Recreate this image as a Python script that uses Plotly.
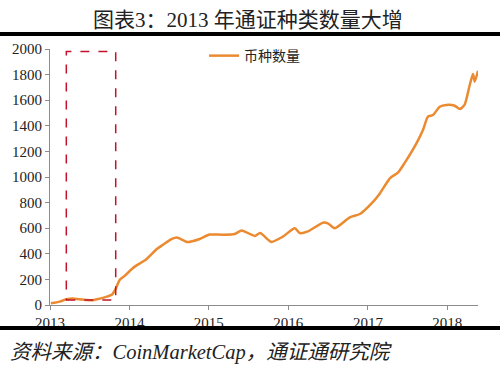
import plotly.graph_objects as go

dates = ["2013-01-05", "2013-02-15", "2013-03-17", "2013-04-15", "2013-06-01", "2013-07-16",
         "2013-08-18", "2013-09-19", "2013-10-12", "2013-10-31", "2013-11-17", "2013-12-10",
         "2014-01-17", "2014-03-21", "2014-05-07", "2014-06-04", "2014-07-15", "2014-08-07",
         "2014-09-26", "2014-11-20", "2015-01-05", "2015-03-06", "2015-04-30", "2015-06-01",
         "2015-07-31", "2015-08-25", "2015-10-15", "2015-12-07", "2016-01-31", "2016-02-23",
         "2016-03-31", "2016-06-08", "2016-07-01", "2016-08-02", "2016-10-10", "2016-11-25",
         "2017-01-18", "2017-02-25", "2017-04-12", "2017-05-20", "2017-06-19", "2017-08-12",
         "2017-09-11", "2017-10-04", "2017-10-27", "2017-11-27", "2017-12-28", "2018-02-04",
         "2018-02-27", "2018-03-21", "2018-04-14", "2018-04-29", "2018-05-07", "2018-05-22"]
coin_count = [13, 26, 45, 50, 42, 38,
              50, 65, 80, 130, 195, 227,
              289, 360, 437, 470, 516, 528,
              492, 516, 550, 549, 555, 582,
              540, 562, 493, 534, 600, 562,
              575, 643, 638, 600, 685, 711,
              794, 872, 990, 1036, 1110, 1263,
              1367, 1471, 1484, 1549, 1563, 1557,
              1531, 1563, 1719, 1805, 1745, 1830]

series_name = "币种数量"
title_text = "图表3：2013 年通证种类数量大增"
source_text = "资料来源：CoinMarketCap，通证通研究院"
highlight_x = ["2013-03-17", "2013-10-30"]
highlight_y = [40, 1980]
y_ticks = [0, 200, 400, 600, 800, 1000, 1200, 1400, 1600, 1800, 2000]
x_ticks = ["2013-01-01", "2014-01-01", "2015-01-01", "2016-01-01", "2017-01-01", "2018-01-01"]
x_tick_labels = ["2013", "2014", "2015", "2016", "2017", "2018"]

SERIF = "Liberation Serif, Noto Sans CJK SC"
NUM_FONT = "Liberation Serif"

fig = go.Figure()
fig.add_trace(go.Scatter(
    x=dates, y=coin_count, mode="lines", name=series_name,
    line=dict(color="#EB8A30", width=2.5, shape="spline", smoothing=0.6),
))

fig.add_shape(type="rect", xref="x", yref="y",
              x0=highlight_x[0], x1=highlight_x[1], y0=highlight_y[0], y1=highlight_y[1],
              line=dict(color="#C0132B", width=1.5, dash="dash"), fillcolor="rgba(0,0,0,0)")

# thick black rules
fig.add_shape(type="line", xref="paper", yref="paper", x0=-0.12, x1=1.06, y0=1.0586, y1=1.0586,
              line=dict(color="black", width=4))
fig.add_shape(type="line", xref="paper", yref="paper", x0=-0.12, x1=1.06, y0=-0.0898, y1=-0.0898,
              line=dict(color="black", width=4))

fig.add_annotation(text=title_text, xref="paper", yref="paper", x=0.462, y=1.113,
                   xanchor="center", yanchor="middle", showarrow=False,
                   font=dict(family=SERIF, size=21, color="#222"))
fig.add_annotation(text="<i>" + source_text + "</i>", xref="paper", yref="paper",
                   x=-0.098, y=-0.184, xanchor="left", yanchor="middle", showarrow=False,
                   font=dict(family=SERIF, size=20.5, color="#222"))

fig.update_layout(
    width=500, height=367,
    margin=dict(l=50, r=22, t=49, b=62),
    paper_bgcolor="white", plot_bgcolor="white",
    showlegend=True,
    legend=dict(x=0.36, y=1.035, xanchor="left", yanchor="top",
                font=dict(family=SERIF, size=14, color="#222"),
                bgcolor="rgba(0,0,0,0)", itemwidth=30),
    font=dict(family=SERIF, size=14, color="#222"),
)
fig.update_xaxes(type="date", range=["2013-01-01", "2018-05-22"],
                 tickvals=x_ticks, ticktext=x_tick_labels,
                 showgrid=False, showline=True, linecolor="#8c8c8c", linewidth=1,
                 ticks="outside", ticklen=4, tickcolor="#8c8c8c",
                 tickfont=dict(family=NUM_FONT, size=15, color="#222"), zeroline=False)
fig.update_yaxes(range=[0, 2000], tickvals=y_ticks,
                 showgrid=False, showline=True, linecolor="#8c8c8c", linewidth=1,
                 ticks="outside", ticklen=4, tickcolor="#8c8c8c",
                 tickfont=dict(family=NUM_FONT, size=15, color="#222"), zeroline=False)

fig.write_html("out.html", config={"displayModeBar": False},
               post_script="document.body.style.margin='0';")
